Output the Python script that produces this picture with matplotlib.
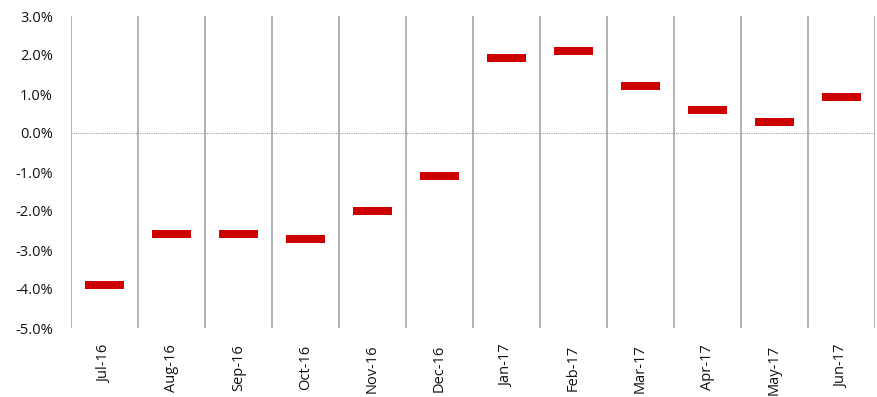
import matplotlib
matplotlib.use("Agg")
import matplotlib.pyplot as plt
from matplotlib.ticker import FuncFormatter, MultipleLocator

# ── Données ────────────────────────────────────────────────────────────────────
months = ["Jul-16", "Aug-16", "Sep-16", "Oct-16", "Nov-16", "Dec-16",
          "Jan-17", "Feb-17", "Mar-17", "Apr-17", "May-17", "Jun-17"]
values = [-3.90, -2.59, -2.59, -2.72, -2.00, -1.10,
          1.92, 2.10, 1.21, 0.59, 0.28, 0.92]

RED  = "#cc0000"
GRID = "#a6a6a6"

plt.rcParams["font.family"] = ["Open Sans", "DejaVu Sans"]

fig = plt.figure(figsize=(8.77, 3.97), dpi=100)
ax = fig.add_axes([71 / 877, 1 - 328 / 397, 804 / 877, 312 / 397])

x = list(range(len(months)))
thick = 0.2
ax.bar(x, [thick] * len(values), bottom=[v - thick / 2 for v in values],
       width=0.57, color=RED, zorder=3)

# séparateurs verticaux entre les mois
for b in range(len(months) + 1):
    ax.axvline(b - 0.5, color=GRID, lw=1.2, zorder=1)
ax.axhline(0, color="#a0a0a0", lw=0.8, ls=(0, (1, 1)), zorder=2)

ax.set_xlim(-0.5, len(months) - 0.5)
ax.set_ylim(-5, 3)
ax.yaxis.set_major_locator(MultipleLocator(1))
ax.yaxis.set_major_formatter(FuncFormatter(lambda v, _: f"{v:.1f}%"))

ax.set_xticks(x)
ax.set_xticklabels(months, rotation=90, fontsize=10.5, color="#111111")
ax.tick_params(axis="x", length=0, pad=12)
ax.tick_params(axis="y", length=0, pad=13, labelsize=10.5, labelcolor="#111111")

for s in ax.spines.values():
    s.set_visible(False)

fig.savefig("out.png", dpi=100)
